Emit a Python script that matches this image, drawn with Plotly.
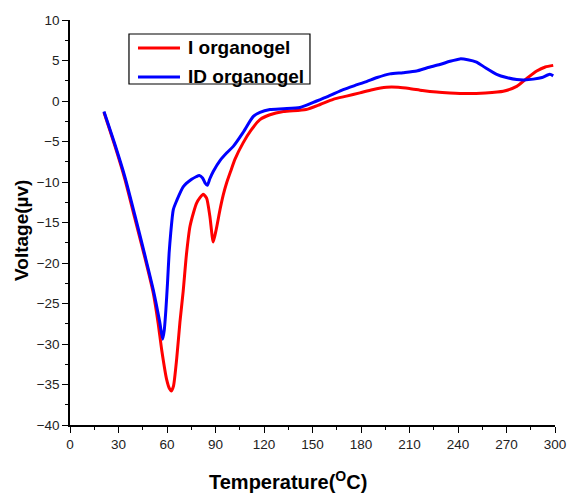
import plotly.graph_objects as go

# Temperature (°C) and voltage (µV) traces for the two organogels
temp_i = [21, 28, 34, 40, 46.4, 51.5, 54.5, 56.7, 59.8, 61.5, 62.7, 64, 66, 68, 70, 72, 74.2,
          76.5, 78.3, 80.5, 82.4, 84.5, 86.5, 88.6, 90.5, 92.8, 94.8, 96.9, 99.5, 102, 107,
          112, 117.5, 123.7, 132, 146, 155, 162.8, 171, 179.3, 187, 195.8, 203, 210, 218,
          226.8, 235, 245.4, 257, 268, 276.3, 282, 288.7, 294, 298.9]
volt_i = [-1.4, -5.7, -9.7, -14.4, -19.4, -23.7, -27.4, -30.7, -34.4, -35.5, -35.8, -35.2,
          -31.8, -27.3, -23.5, -19.0, -15.5, -13.7, -12.6, -11.9, -11.5, -12.0, -14.2, -17.4,
          -15.8, -13.4, -11.6, -10.1, -8.6, -7.2, -5.2, -3.6, -2.3, -1.7, -1.3, -1.05, -0.4,
          0.2, 0.6, 1.0, 1.4, 1.7, 1.7, 1.55, 1.3, 1.1, 1.0, 0.93, 1.0, 1.2, 1.8, 2.7, 3.7,
          4.2, 4.4]

temp_id = [21, 28, 34, 40, 46.4, 51.5, 55.5, 57.3, 58.3, 59.3, 60.3, 61.3, 62.3, 63.9, 66,
           70, 75, 78, 80, 82, 83.5, 84.9, 86.5, 88.6, 93, 97, 101, 107, 113.4, 117.5, 123.7,
           132, 142.3, 152.6, 160, 169, 176, 183.4, 190, 197.9, 206, 214.4, 221, 228.8, 235,
           241.2, 246, 251.5, 257, 263.9, 270, 276.3, 281, 286.6, 292, 296.8, 298.9]
volt_id = [-1.3, -5.5, -9.4, -14.0, -19.1, -23.3, -27.3, -29.4, -28.3, -25.8, -22.5, -18.8,
           -16.3, -13.4, -12.3, -10.6, -9.7, -9.35, -9.2, -9.5, -10.1, -10.4, -9.6, -8.7,
           -7.3, -6.4, -5.6, -3.9, -1.9, -1.4, -1.05, -0.95, -0.8, 0.0, 0.6, 1.4, 1.9, 2.4,
           2.9, 3.35, 3.5, 3.7, 4.1, 4.5, 4.9, 5.2, 5.1, 4.8, 4.1, 3.3, 2.9, 2.65, 2.6, 2.7,
           2.9, 3.3, 3.1]

series_names = ["I organogel", "ID organogel"]
series_colors = ["#ff0000", "#0000ff"]

x_ticks = [0, 30, 60, 90, 120, 150, 180, 210, 240, 270, 300]
y_ticks = [10, 5, 0, -5, -10, -15, -20, -25, -30, -35, -40]

FONT = "Arial, Liberation Sans, sans-serif"

fig = go.Figure()
for (tx, vy), name, color in zip([(temp_i, volt_i), (temp_id, volt_id)], series_names, series_colors):
    fig.add_trace(go.Scatter(x=tx, y=vy, mode="lines", name=name, showlegend=False,
                             line=dict(color=color, width=3, shape="spline", smoothing=0.6)))

axis_common = dict(
    showline=True, linecolor="black", linewidth=1.5, mirror=False,
    ticks="outside", ticklen=6, tickwidth=1.3, tickcolor="black",
    showgrid=False, zeroline=False, automargin=False,
    tickfont=dict(family=FONT, size=13.5, color="#222"),
)

# Legend drawn as a framed box in paper coordinates
leg_x0, leg_x1, leg_y0, leg_y1 = 0.1216, 0.4948, 0.842, 0.9654
row_y = [0.9309, 0.8593]
shapes = [dict(type="rect", xref="paper", yref="paper", x0=leg_x0, x1=leg_x1,
               y0=leg_y0, y1=leg_y1, line=dict(color="black", width=1.2),
               fillcolor="white", layer="above")]
annotations = []
for name, color, ry in zip(series_names, series_colors, row_y):
    shapes.append(dict(type="line", xref="paper", yref="paper", x0=0.1402, x1=0.2268,
                       y0=ry, y1=ry, line=dict(color=color, width=3), layer="above"))
    annotations.append(dict(text=f"<b>{name}</b>", xref="paper", yref="paper",
                            x=0.2392, y=ry, xanchor="left", yanchor="middle", showarrow=False,
                            font=dict(family=FONT, size=19, color="black")))

annotations += [
    dict(text="<b>Temperature(<sup>O</sup>C)</b>", xref="paper", yref="paper",
         x=0.4495, y=-0.136, xanchor="center", yanchor="middle", showarrow=False,
         font=dict(family=FONT, size=20, color="black")),
    dict(text="<b>Voltage(µv)</b>", xref="paper", yref="paper",
         x=-0.099, y=0.4815, xanchor="center", yanchor="middle", showarrow=False,
         textangle=-90, font=dict(family=FONT, size=19, color="black")),
]

fig.update_layout(
    width=568, height=493,
    margin=dict(l=70, r=13, t=20, b=68),
    plot_bgcolor="white", paper_bgcolor="white",
    xaxis=dict(range=[0, 300], tickvals=x_ticks,
               minor=dict(dtick=15, ticks="outside", ticklen=3.5, tickwidth=1.2, tickcolor="black"),
               **axis_common),
    yaxis=dict(range=[-40, 10], tickvals=y_ticks,
               minor=dict(dtick=2.5, ticks="outside", ticklen=3.5, tickwidth=1.2, tickcolor="black"),
               **axis_common),
    showlegend=False,
    shapes=shapes,
    annotations=annotations,
)

fig.write_html("out.html")
